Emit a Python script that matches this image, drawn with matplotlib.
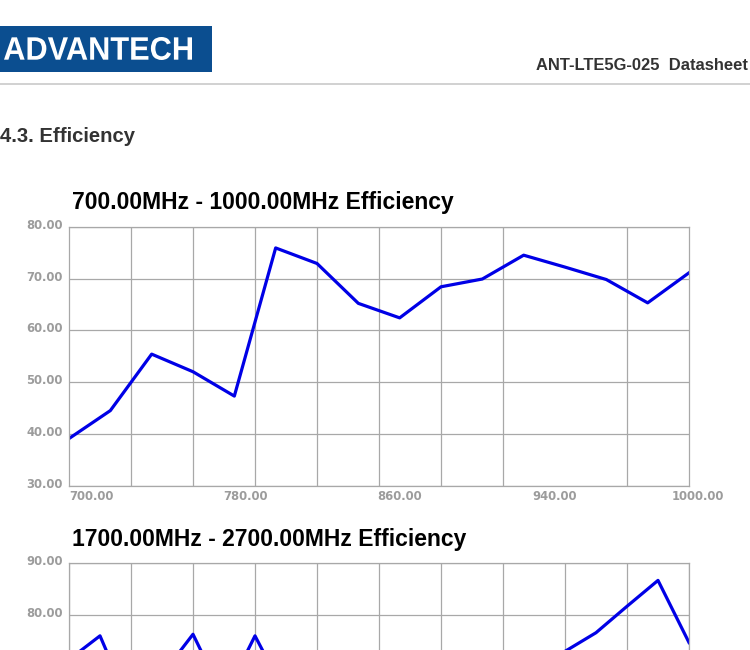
import matplotlib
matplotlib.use("Agg")
import matplotlib.pyplot as plt
import matplotlib.transforms as mtransforms
from matplotlib.patches import Rectangle, PathPatch
from matplotlib.textpath import TextPath
from matplotlib.font_manager import FontProperties

plt.rcParams['font.family'] = ['Liberation Sans', 'DejaVu Sans']

# page text
logo_text = "ADVANTECH"
doc_name = "ANT-LTE5G-025  Datasheet"
section = "4.3. Efficiency"

# 700 - 1000 MHz band
low_title = "700.00MHz - 1000.00MHz Efficiency"
low_freq = [700, 720, 740, 760, 780, 800, 820, 840, 860, 880, 900, 920, 940, 960, 980, 1000]
low_eff = [39.1, 44.5, 55.4, 52.0, 47.3, 75.9, 72.9, 65.2, 62.4, 68.4, 69.9, 74.5, 72.2, 69.8, 65.3, 71.1]
low_xticks = [700, 780, 860, 940, 1000]
low_yticks = [30, 40, 50, 60, 70, 80]

# 1700 - 2700 MHz band (lower part runs off the page)
high_title = "1700.00MHz - 2700.00MHz Efficiency"
high_freq = [1700, 1750, 1800, 1850, 1900, 1950, 2000, 2050, 2100, 2150, 2200,
             2250, 2300, 2350, 2400, 2450, 2500, 2550, 2600, 2650, 2700]
high_eff = [71.4, 76.0, 62.0, 68.5, 76.3, 64.0, 76.0, 64.5, 62.0, 60.5, 59.0,
            60.0, 61.5, 63.0, 64.0, 66.0, 73.0, 76.6, 81.7, 86.7, 74.7]
high_yticks = [40, 50, 60, 70, 80, 90]
high_ylabels = ['', '', '', '', '80.00', '90.00']  # the rest is below the page edge

W, H = 750, 650
fig = plt.figure(figsize=(W / 100, H / 100), dpi=100)


def fx(px):
    return px / W


def fy(py):
    # py measured from top of page
    return 1 - py / H


# header: logo block
fig.patches.append(Rectangle((0, fy(72)), fx(212), 46 / H, transform=fig.transFigure,
                             facecolor='#0b4e90', edgecolor='none'))
fp = FontProperties(family='Liberation Sans', weight='bold')
tp = TextPath((0, 0), logo_text, size=1, prop=fp)
bb = tp.get_extents()
tr = (mtransforms.Affine2D().translate(-bb.x0, -bb.y0)
      .scale(fx(188) / bb.width, (23 / H) / bb.height)
      .translate(fx(4), fy(60)) + fig.transFigure)
fig.patches.append(PathPatch(tp, transform=tr, facecolor='white', edgecolor='none'))

fig.text(fx(748), fy(69.5), doc_name, ha='right', va='baseline', fontsize=11.9,
         fontweight='bold', color='#333333')
fig.patches.append(Rectangle((0, fy(85)), 1, 2.5 / H, transform=fig.transFigure,
                             facecolor='#d2d2d2', edgecolor='none'))
fig.text(fx(0.5), fy(142), section, ha='left', va='baseline', fontsize=14.6,
         fontweight='bold', color='#333333')


def shift(label, dx, dy):
    off = mtransforms.ScaledTranslation(dx / 100, dy / 100, fig.dpi_scale_trans)
    label.set_transform(label.get_transform() + off)


def eff_chart(top_px, title, freq, eff, yticks, ylabels, xticks=None, xshift=()):
    ax = fig.add_axes([fx(69), fy(top_px + 259), fx(620), 259 / H])
    ax.plot(freq, eff, color='#0000e6', lw=2.3)
    ax.set_xlim(freq[0], freq[-1])
    ax.set_ylim(yticks[0], yticks[-1])
    ax.set_xticks([freq[0] + (freq[-1] - freq[0]) * i / 10 for i in range(11)], minor=True)
    if xticks:
        ax.set_xticks(xticks)
        ax.set_xticklabels(['%.2f' % v for v in xticks])
    else:
        ax.set_xticks([])
    ax.set_yticks(yticks)
    ax.set_yticklabels(ylabels)
    ax.grid(True, axis='y', color='#a8a8a8', lw=0.9)
    ax.grid(True, axis='x', which='minor', color='#a8a8a8', lw=0.9)
    ax.tick_params(which='both', length=0)
    ax.tick_params(axis='y', pad=4.5)
    ax.tick_params(axis='x', pad=3)
    for side in ax.spines.values():
        side.set_color('#a8a8a8')
        side.set_linewidth(0.9)
    for lab in ax.get_yticklabels() + ax.get_xticklabels():
        lab.set_fontfamily('DejaVu Sans')
        lab.set_fontweight('bold')
        lab.set_fontsize(8.4)
        lab.set_color('#9c9c9c')
    for lab in ax.get_yticklabels():
        shift(lab, 0, 3)
    xl = ax.get_xticklabels()
    if xl:
        xl[0].set_ha('left')
    for lab, dx in zip(xl, xshift):
        shift(lab, dx, 0)
    fig.text(fx(72), fy(top_px - 24), title, ha='left', va='center', fontsize=16.5,
             fontweight='bold', color='black')
    return ax


eff_chart(226.7, low_title, low_freq, low_eff, low_yticks,
          ['%.2f' % v for v in low_yticks], low_xticks, [0, 11, 0, -10, 9])
eff_chart(563.3, high_title, high_freq, high_eff, high_yticks, high_ylabels)

fig.savefig("out.png", dpi=100)
